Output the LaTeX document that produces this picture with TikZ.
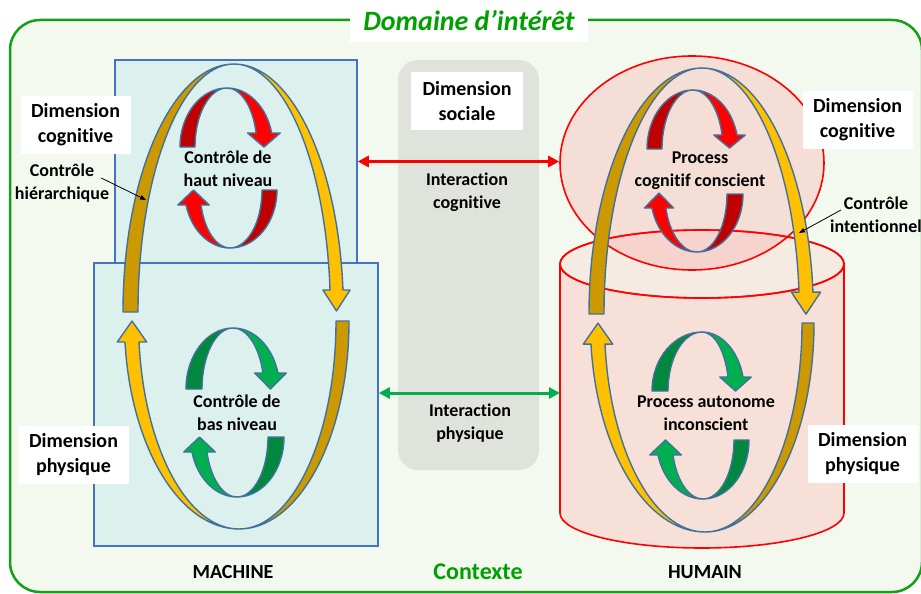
\documentclass[tikz,border=0pt]{standalone}
\usepackage{fontspec}
\setmainfont[Ligatures={NoCommon,NoContextual,NoRare}, Contextuals=NoAlternate]{Carlito}
\usetikzlibrary{arrows.meta, calc, shapes.geometric}

\definecolor{framegreen}{RGB}{20,160,20}
\definecolor{framefill}{RGB}{243,249,238}
\definecolor{titlegreen}{RGB}{0,160,0}
\definecolor{boxfill}{RGB}{220,240,237}
\definecolor{boxline}{RGB}{68,114,196}
\definecolor{socgrey}{RGB}{224,226,220}
\definecolor{cylbody}{RGB}{246,224,216}
\definecolor{cyltop}{RGB}{245,235,227}
\definecolor{loopgold}{RGB}{204,153,0}
\definecolor{loopamber}{RGB}{255,192,0}
\definecolor{loopdarkred}{RGB}{192,0,0}
\definecolor{loopred}{RGB}{255,0,0}
\definecolor{loopdarkgreen}{RGB}{0,136,62}
\definecolor{loopgreen}{RGB}{0,176,80}
\definecolor{ribbonblue}{RGB}{65,113,156}

\tikzset{
  label box/.style={fill=white, align=center, inner sep=2,
    font=\fontsize{20}{25}\selectfont\bfseries, minimum width=110, minimum height=58},
  loop text/.style={align=center, inner sep=0, font=\fontsize{18}{23}\selectfont\bfseries},
  machine box/.style={draw=boxline, fill=boxfill, line width=1.5pt, inner sep=0},
  cyl line/.style={draw=red, line width=1.6pt},
  ribbon line/.style={draw=ribbonblue, line width=1.4pt, line join=round},
}

% half of a ribbon loop: centre, y radius, outer/inner x radius, end angle, apex angle, colour
\newcommand{\ribbon}[8]{%
  \filldraw[ribbon line, fill=#8] (#1,#2) ++(#6:#4 and #3)
    arc[start angle=#6, end angle=#7, x radius=#4, y radius=#3]
    arc[start angle=#7, end angle=#6, x radius=#5, y radius=#3] -- cycle;}
% same, ending with an arrow head of length #9
\newcommand{\ribbonhead}[9]{%
  \path (#1,#2) ++(#6:#4 and #3) coordinate (ro)
        (#1,#2) ++(#6:#5 and #3) coordinate (ri);
  \filldraw[ribbon line, fill=#8] (#1,#2) ++(#7:#4 and #3)
    arc[start angle=#7, end angle=#6, x radius=#4, y radius=#3]
    -- ($(ro)!-0.55!(ri)$) -- ($(ro)!0.5!(ri)+(0,#9)$) -- ($(ri)!-0.55!(ro)$) -- (ri)
    arc[start angle=#6, end angle=#7, x radius=#5, y radius=#3] -- cycle;}

\begin{document}
\begin{tikzpicture}[x=1pt, y=-1pt, >={Triangle[length=11pt, width=11pt]}]
  \useasboundingbox (0,0) rectangle (921,594);
  \clip (0,0) rectangle (921,594);

  % domaine et contexte
  \draw[line width=2.5pt, draw=framegreen, fill=framefill, rounded corners=30] (10,20) rectangle (922,592);
  \node[fill=white, minimum width=238, minimum height=42, text=titlegreen,
    font=\fontsize{28}{34}\selectfont\bfseries\itshape] (title) at (469,21) {Domaine d’intérêt};
  \node[fill=socgrey, rounded corners=20, minimum width=141, minimum height=410, inner sep=0] (soc) at (468.5,265) {};

  % machine
  \node[machine box, minimum width=242, minimum height=203] (cogm) at (236,161.5) {};
  \node[machine box, minimum width=284, minimum height=283] (phym) at (236,404.5) {};

  % humain
  \filldraw[cyl line, fill=cylbody] (560,264) -- (560,513)
    arc[start angle=180, end angle=0, x radius=142, y radius=35] -- (844,264) -- cycle;
  \filldraw[cyl line, fill=cyltop] (702,264) ellipse[x radius=142, y radius=34];
  \node[ellipse, draw=red, line width=1.6pt, fill=red!50, fill opacity=0.22,
    minimum width=264, minimum height=214, inner sep=0] (head) at (692,163) {};
  \draw[cyl line] (702,264) ellipse[x radius=142, y radius=34];
  \coordinate (cylw) at (560,393);

  % interactions
  \draw[<->, line width=3pt, draw=loopred] (cogm.east) -- (cogm.east -| head.west);
  \draw[<->, line width=3pt, draw=loopgreen] (phym.east |- cylw) -- (cylw);

  % boucles machine
  \ribbon{234}{312}{248}{111}{96}{180}{270}{loopgold}
  \ribbonhead{234}{312}{248}{109.4}{96.4}{354.9}{270}{loopamber}{21}
  \ribbonhead{239}{321}{208}{114.6}{100.5}{174.2}{90}{loopamber}{-21}
  \ribbon{239}{321}{208}{110}{97}{0}{90}{loopgold}
  \ribbon{227}{147}{59}{47}{32}{180}{270}{loopdarkred}
  \ribbonhead{227}{147}{59}{46}{30}{346.3}{270}{loopred}{14}
  \ribbonhead{230}{190}{58}{45.5}{30}{165}{90}{loopred}{-15}
  \ribbon{230}{190}{58}{47}{32}{0}{90}{loopdarkred}
  \ribbon{233}{389}{61}{47}{31}{180}{270}{loopdarkgreen}
  \ribbonhead{233}{389}{61}{46.6}{31}{344.8}{270}{loopgreen}{16}
  \ribbonhead{237}{437}{60}{46.5}{31}{165.5}{90}{loopgreen}{-15}
  \ribbon{237}{437}{60}{47}{31}{0}{90}{loopdarkgreen}

  % boucles humain
  \ribbon{702}{314}{246}{113}{98}{180}{270}{loopgold}
  \ribbonhead{702}{314}{246}{111.4}{97.4}{354.9}{270}{loopamber}{22}
  \ribbonhead{705}{323}{209}{114.6}{100.5}{174.2}{90}{loopamber}{-21}
  \ribbon{705}{323}{209}{109}{97}{0}{90}{loopgold}
  \ribbon{693}{149}{59}{46}{31}{180}{270}{loopdarkred}
  \ribbonhead{693}{149}{59}{45.3}{29.9}{346.3}{270}{loopred}{13}
  \ribbonhead{697}{194}{58}{46.4}{32}{166}{90}{loopred}{-15}
  \ribbon{697}{194}{58}{46}{30}{0}{90}{loopdarkred}
  \ribbon{702}{391}{59}{50}{34}{180}{270}{loopdarkgreen}
  \ribbonhead{702}{391}{59}{42.2}{26.8}{346.3}{270}{loopgreen}{14}
  \ribbonhead{703}{440}{59}{46.5}{31}{165.3}{90}{loopgreen}{-15}
  \ribbon{703}{440}{59}{46}{31}{0}{90}{loopdarkgreen}

  % textes
  \node[label box] (dimcogm) at (75.5,125) {Dimension\\cognitive};
  \node[label box] (dimphym) at (73.5,455) {Dimension\\physique};
  \node[label box, minimum width=112] (dimsoc) at (467,101) {Dimension\\sociale};
  \node[label box] (dimcogh) at (857.5,119.5) {Dimension\\cognitive};
  \node[label box] (dimphyh) at (862.5,454) {Dimension\\physique};
  \node[loop text] (intcog) at (467,192.5) {Interaction\\cognitive};
  \node[loop text] (intphy) at (470,423.5) {Interaction\\physique};
  \node[loop text] (hautniv) at (228,168.5) {Contrôle de\\haut niveau};
  \node[loop text] (basniv) at (237,413) {Contrôle de\\bas niveau};
  \node[loop text] (proccog) at (700,170.5) {Process\\cognitif conscient};
  \node[loop text] (procaut) at (706,413.5) {Process autonome\\inconscient};
  \node[loop text] (ctrlh) at (62,183) {Contrôle\\hiérarchique};
  \node[loop text] (ctrli) at (876,215) {Contrôle\\intentionnel};
  \node[font=\fontsize{20}{24}\selectfont\bfseries] (machine) at (233,572) {MACHINE};
  \node[font=\fontsize{20}{24}\selectfont\bfseries] (humain) at (705,572) {HUMAIN};
  \node[font=\fontsize{24}{28}\selectfont\bfseries, text=titlegreen] (contexte) at (478,572) {Contexte};

  % controles
  \coordinate (hiera) at (146,200);
  \coordinate (inten) at (799,233);
  \draw[-{Triangle[length=6pt, width=4.5pt]}, line width=0.8pt] ([xshift=-8pt, yshift=5pt]ctrlh.east) -- (hiera);
  \draw[-{Triangle[length=6pt, width=4.5pt]}, line width=0.8pt] ([xshift=11pt, yshift=5pt]ctrli.west) -- (inten);
\end{tikzpicture}
\end{document}
